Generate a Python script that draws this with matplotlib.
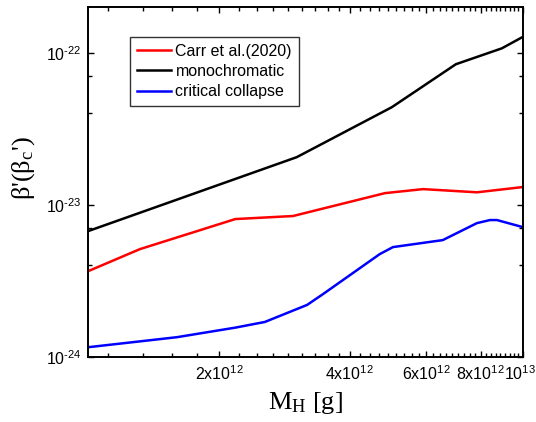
import numpy as np
import matplotlib
matplotlib.use("Agg")
import matplotlib.pyplot as plt
import matplotlib.transforms as mtransforms
from matplotlib.ticker import FixedLocator, NullFormatter

# data (M_H in g, beta')
carr_m = [1.0e12, 1.315e12, 2.18e12, 2.96e12, 4.82e12, 5.90e12, 7.85e12, 1.0e13]
carr_b = [3.67e-24, 5.12e-24, 8.07e-24, 8.45e-24, 1.195e-23, 1.27e-23, 1.21e-23, 1.31e-23]

mono_m = [1.0e12, 3.02e12, 5.0e12, 7.02e12, 8.96e12, 1.0e13]
mono_b = [6.73e-24, 2.06e-23, 4.39e-23, 8.41e-23, 1.07e-22, 1.27e-22]

crit_m = [1.0e12, 1.60e12, 2.18e12, 2.55e12, 3.19e12, 3.47e12, 3.80e12, 4.69e12,
          5.03e12, 6.55e12, 7.85e12, 8.41e12, 8.73e12, 1.0e13]
crit_b = [1.16e-24, 1.35e-24, 1.56e-24, 1.70e-24, 2.20e-24, 2.59e-24, 3.11e-24, 4.75e-24,
          5.28e-24, 5.87e-24, 7.59e-24, 7.95e-24, 7.95e-24, 7.15e-24]

labels = ["Carr et al.(2020)", "monochromatic", "critical collapse"]

xmajor = [2e12, 4e12, 6e12, 8e12, 1e13]
xmajor_lab = [r"2x10$^{12}$", r"4x10$^{12}$", r"6x10$^{12}$", r"8x10$^{12}$", r"10$^{13}$"]
ymajor = [1e-24, 1e-23, 1e-22]
# hyphen (not minus sign) in the exponents, as in the reference
ymajor_lab = ["10$^{\u201024}$", "10$^{\u201023}$", "10$^{\u201022}$"]

plt.rcParams['font.family'] = ['Liberation Sans', 'DejaVu Sans']
plt.rcParams['mathtext.default'] = 'regular'

fig = plt.figure(figsize=(5.36, 4.22), dpi=100)
ax = fig.add_axes([0.1647, 0.154, 0.8103, 0.8294])

lw = 1.8
ax.plot(carr_m, carr_b, color='#ff0000', lw=lw, label=labels[0])
ax.plot(mono_m, mono_b, color='black', lw=lw, label=labels[1])
ax.plot(crit_m, crit_b, color='#0000ff', lw=lw, label=labels[2])

ax.set_xscale('log')
ax.set_yscale('log')
ax.set_xlim(1e12, 1e13)
ax.set_ylim(1e-24, 2e-22)

ax.xaxis.set_major_locator(FixedLocator(xmajor))
ax.set_xticklabels(xmajor_lab)
xminor = [2e12 * (1 + k / 9) for k in range(-4, 37) if k % 9 != 0]
ax.xaxis.set_minor_locator(FixedLocator([v for v in xminor if 1e12 < v < 1e13]))
ax.xaxis.set_minor_formatter(NullFormatter())

ax.yaxis.set_major_locator(FixedLocator(ymajor))
ax.set_yticklabels(ymajor_lab)
ax.yaxis.set_minor_locator(FixedLocator([4e-24, 7e-24, 4e-23, 7e-23]))
ax.yaxis.set_minor_formatter(NullFormatter())

ax.tick_params(which='both', direction='in', top=True, right=True, width=1.0, labelsize=11.5)
ax.tick_params(which='major', length=4.5, pad=5)
ax.tick_params(which='minor', length=2.8)
for s in ax.spines.values():
    s.set_linewidth(1.4)

# keep the 10^13 label inside the canvas
last = ax.get_xticklabels()[-1]
last.set_transform(last.get_transform() + mtransforms.ScaledTranslation(-3 / 100, 0, fig.dpi_scale_trans))

ax.set_xlabel(r"M$_\mathregular{H}$ [g]", family='Liberation Serif', fontsize=19, labelpad=5.5)
ax.set_ylabel(r"β'(β$_\mathregular{c}$')", family='Liberation Serif', fontsize=19)
ax.yaxis.set_label_coords(-0.118, 0.54)

leg = ax.legend(loc='upper left', bbox_to_anchor=(0.096, 0.915), borderaxespad=0,
                fontsize=11.5, frameon=True, fancybox=False, handlelength=2.1,
                handletextpad=0.3, borderpad=0.45, labelspacing=0.32)
leg.get_frame().set_edgecolor('black')
leg.get_frame().set_linewidth(1.0)

fig.savefig("out.png", dpi=100)
